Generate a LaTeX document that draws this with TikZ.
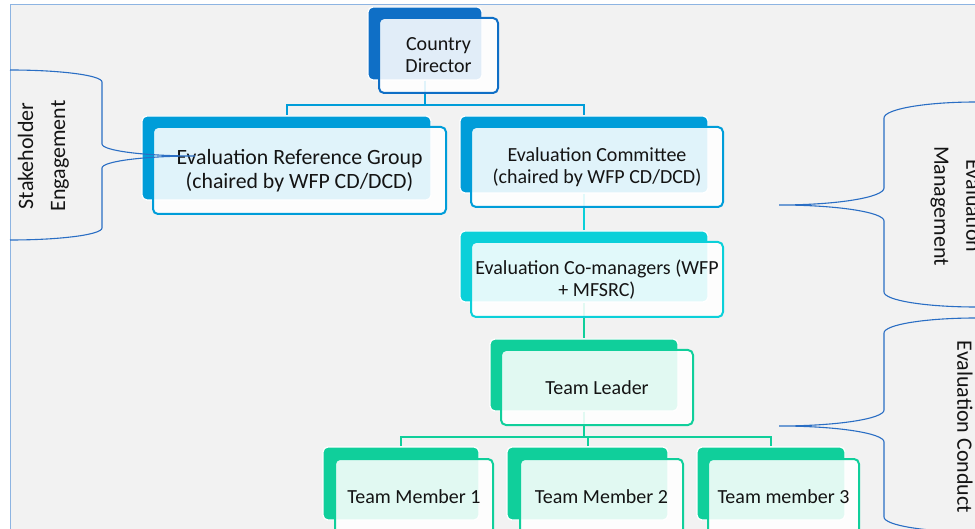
\documentclass[tikz,border=0pt]{standalone}
\usepackage{fontspec}
\setmainfont{Carlito}
\definecolor{cA}{HTML}{0F6FC6}
\definecolor{cB}{HTML}{009DD9}
\definecolor{cC}{HTML}{0BD0D9}
\definecolor{cD}{HTML}{10CF9B}
\definecolor{bgc}{HTML}{F2F2F2}
\definecolor{framec}{HTML}{8DB4E2}
\definecolor{bracec}{HTML}{2A6EC4}
\definecolor{txt}{HTML}{141414}
\newcommand\boxfont{\fontsize{20}{22}\selectfont}
\newcommand\bigboxfont{\fontsize{21.8}{23.5}\selectfont}
\newcommand\labfont{\fontsize{22}{32}\selectfont}
\begin{document}
\begin{tikzpicture}[x=1pt,y=-1pt,
  backbox/.style={rounded corners=5pt, draw=white, line width=1.2pt, inner sep=0pt},
  frontbox/.style={rounded corners=5pt, line width=2pt, fill=white, fill opacity=0.88,
    text opacity=1, inner sep=0pt, align=center, font=\boxfont, text=txt},
  conn/.style={line width=2pt},
  bracepath/.style={draw=bracec, line width=1.1pt},
  bracelabel/.style={align=center, font=\labfont, text=txt, inner sep=0pt}]
\clip (0,0) rectangle (975,529);
\fill[white] (0,0) rectangle (975,529);
\draw[framec, line width=1pt, fill=bgc] (10,5) rectangle (990,545);

% back boxes
\node[backbox, fill=cA, minimum width=114pt, minimum height=73pt] (cdB) at (425,43.5) {};
\node[backbox, fill=cB, minimum width=289pt, minimum height=84pt] (ergB) at (286.5,158) {};
\node[backbox, fill=cB, minimum width=248pt, minimum height=77pt] (ecB) at (584,154.5) {};
\node[backbox, fill=cC, minimum width=248pt, minimum height=71pt] (cmB) at (584,266.5) {};
\node[backbox, fill=cD, minimum width=188pt, minimum height=72pt] (tlB) at (584,375) {};
\node[backbox, fill=cD, minimum width=156pt, minimum height=73pt] (tmaB) at (401,483.5) {};
\node[backbox, fill=cD, minimum width=161pt, minimum height=73pt] (tmbB) at (587.5,483.5) {};
\node[backbox, fill=cD, minimum width=148pt, minimum height=73pt] (tmcB) at (771,483.5) {};

% connectors
\draw[conn, cB] (cdB.south) -- ++(0,24) -| (ergB.north);
\draw[conn, cB] (cdB.south) -- ++(0,24) -| (ecB.north);
\draw[conn, cC] (ecB.south) -- (cmB.north);
\draw[conn, cD] (cmB.south) -- (tlB.north);
\draw[conn, cD] (tlB.south) -- ++(0,25) -| (tmaB.north);
\draw[conn, cD] (tlB.south) -- ++(0,25) -| (tmbB.north);
\draw[conn, cD] (tlB.south) -- ++(0,25) -| (tmcB.north);

% front boxes
\node[frontbox, draw=cA, minimum width=119pt, minimum height=75pt] (cdF) at (438.5,55.5) {Country\\Director};
\node[frontbox, draw=cB, font=\bigboxfont, minimum width=293pt, minimum height=87pt] (ergF) at (299.5,170.5) {Evaluation Reference Group\\(chaired by WFP CD/DCD)};
\node[frontbox, draw=cB, minimum width=252pt, minimum height=80pt] (ecF) at (597,167) {Evaluation Committee\\(chaired by WFP CD/DCD)};
\node[frontbox, draw=cC, minimum width=252pt, minimum height=75pt] (cmF) at (597,279.5) {Evaluation Co-managers (WFP\\+ MFSRC)};
\node[frontbox, draw=cD, minimum width=192pt, minimum height=75pt] (tlF) at (597,387.5) {Team Leader};
\node[frontbox, draw=cD, minimum width=158pt, minimum height=75pt] (tmaF) at (414,496.5) {Team Member 1};
\node[frontbox, draw=cD, minimum width=163pt, minimum height=75pt] (tmbF) at (601.5,496.5) {Team Member 2};
\node[frontbox, draw=cD, minimum width=151pt, minimum height=75pt] (tmcF) at (783.5,496.5) {Team member 3};

% braces
\draw[bracepath] (10,70) .. controls (60.8,70) and (102,75.4) .. (102,82)
  -- (102,144) .. controls (102,150.6) and (143.7,156) .. (195,156)
  .. controls (143.7,156) and (102,161.4) .. (102,168)
  -- (102,228) .. controls (102,234.6) and (60.8,240) .. (10,240);
\draw[bracepath] (976,102) .. controls (925.2,102) and (884,109.2) .. (884,118)
  -- (884,188) .. controls (884,197.4) and (837,205) .. (779,205)
  .. controls (837,205) and (884,212.2) .. (884,221)
  -- (884,292) .. controls (884,300.3) and (925.2,307) .. (976,307);
\draw[bracepath] (976,318) .. controls (925.2,318) and (884,324.7) .. (884,333)
  -- (884,410) .. controls (884,418.8) and (837,426) .. (779,426)
  .. controls (837,426) and (884,433.2) .. (884,442)
  -- (884,517) .. controls (884,525.3) and (925.2,532) .. (976,532);

% brace labels
\node[bracelabel, rotate=90] (lblSE) at (43.5,156) {Stakeholder\\Engagement};
\node[bracelabel, rotate=-90] (lblEM) at (956,206) {Evaluation\\Management};
\node[bracelabel, rotate=-90] (lblEC) at (965,427) {Evaluation Conduct};
\end{tikzpicture}
\end{document}
